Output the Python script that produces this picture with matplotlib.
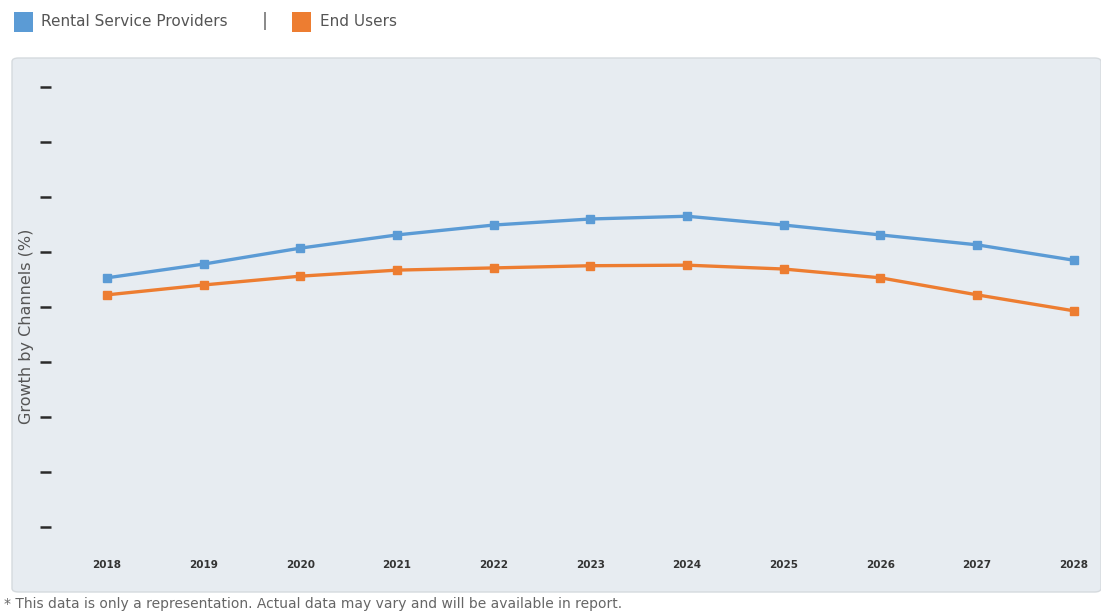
import matplotlib
matplotlib.use('Agg')
import matplotlib.pyplot as plt
from matplotlib.patches import FancyBboxPatch, Rectangle

# ── Data ──────────────────────────────────────────────────────────────────────
years = [2018, 2019, 2020, 2021, 2022, 2023, 2024, 2025, 2026, 2027, 2028]
rental = [4.53, 4.78, 5.07, 5.31, 5.49, 5.60, 5.65, 5.49, 5.31, 5.13, 4.85]
end_users = [4.22, 4.40, 4.56, 4.67, 4.71, 4.75, 4.76, 4.69, 4.53, 4.22, 3.93]
y_ticks = [0, 1, 2, 3, 4, 5, 6, 7, 8]

BLUE = '#5b9bd5'
ORANGE = '#ed7d31'
W, H = 1101, 611

plt.rcParams['font.family'] = ['DejaVu Sans']

fig = plt.figure(figsize=(W / 100, H / 100), dpi=100)
fig.patch.set_facecolor('white')

# panel background (behind the axes)
panel = FancyBboxPatch((12 / W, (H - 592) / H), (1101 - 12) / W, (592 - 58) / H,
                       boxstyle='round,pad=0,rounding_size=0.006',
                       transform=fig.transFigure, facecolor='#e7ecf1',
                       edgecolor='#d5dade', linewidth=1.0, zorder=-5)
fig.patches.append(panel)

# axes: pixel box left=51, right=1095, top=70, bottom=545
ax = fig.add_axes([51 / W, (H - 545) / H, (1095 - 51) / W, (545 - 70) / H])
ax.set_zorder(2)
ax.set_facecolor('none')
for s in ax.spines.values():
    s.set_visible(False)

ax.plot(years, rental, '-s', color=BLUE, linewidth=2.4, markersize=5.5)
ax.plot(years, end_users, '-s', color=ORANGE, linewidth=2.4, markersize=5.5)

ax.set_xlim(2017.42, 2028.22)
ax.set_ylim(-0.33, 8.31)
ax.set_xticks(years)
ax.set_xticklabels([str(y) for y in years], fontsize=7.5, color='#333333',
                   fontweight='bold')
ax.tick_params(axis='x', length=0, pad=11)
ax.set_yticks(y_ticks)
ax.set_yticklabels([])
ax.tick_params(axis='y', length=8, width=1.8, color='#2a2a2a', direction='out')
ax.set_ylabel('Growth by Channels (%)', fontsize=11.5, color='#555555')
ax.yaxis.set_label_coords(-0.016, 0.46)

# legend drawn at top
fig.patches.append(Rectangle((14 / W, (H - 32) / H), 19 / W, 20 / H,
                             transform=fig.transFigure, facecolor=BLUE, edgecolor='none'))
fig.text(41 / W, (H - 21) / H, 'Rental Service Providers', fontsize=11,
         color='#555555', va='center', ha='left')
fig.text(262 / W, (H - 21) / H, '|', fontsize=13, color='#666666', va='center', ha='left')
fig.patches.append(Rectangle((292 / W, (H - 32) / H), 19 / W, 20 / H,
                             transform=fig.transFigure, facecolor=ORANGE, edgecolor='none'))
fig.text(320 / W, (H - 21) / H, 'End Users', fontsize=11,
         color='#555555', va='center', ha='left')

# footnote
fig.text(4 / W, (H - 604) / H,
         '* This data is only a representation. Actual data may vary and will be available in report.',
         fontsize=10, color='#666666', va='center', ha='left')

fig.savefig('out.png', dpi=100)
